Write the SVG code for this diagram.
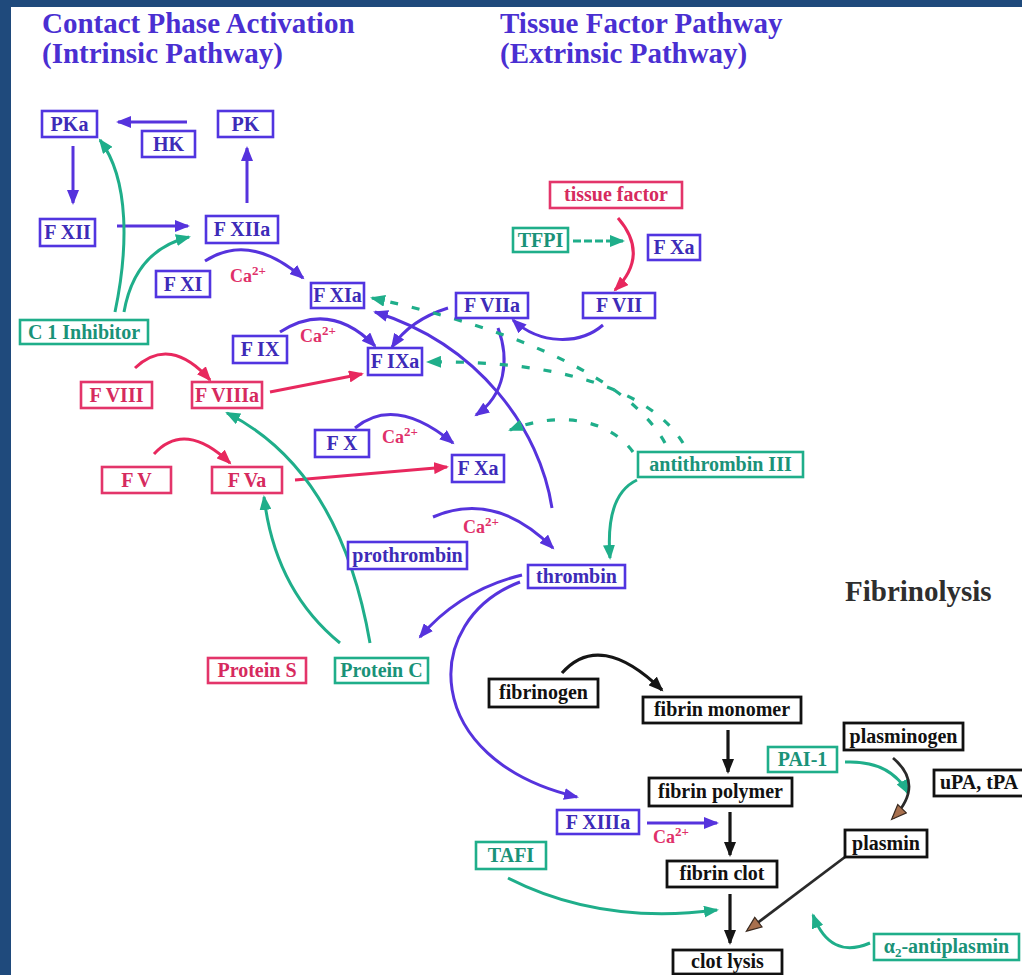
<svg xmlns="http://www.w3.org/2000/svg" width="1022" height="975" viewBox="0 0 1022 975">
<style>
text{font-family:"Liberation Serif","Times New Roman",serif;font-weight:bold}
.t{font-size:20px;text-anchor:middle}
.title{font-size:29px;fill:#4a2fd2}
.nb rect{fill:#fff;stroke:#5135e0;stroke-width:2.6}
.nb text{fill:#3d2bb8}
.nr rect{fill:#fff;stroke:#e3356a;stroke-width:2.6}
.nr text{fill:#d62a5e}
.ng rect{fill:#fff;stroke:#1fae8a;stroke-width:2.6}
.ng text{fill:#1a9278}
.nk rect{fill:#fff;stroke:#111;stroke-width:2.8}
.nk text{fill:#111}
.ca{font-size:18px;fill:#e0306a}
.ca tspan{font-size:13px}
.cb{fill:none;stroke:#5633dd;stroke-width:3;marker-end:url(#ab)}
.cr{fill:none;stroke:#e8285e;stroke-width:3;marker-end:url(#ar)}
.cg{fill:none;stroke:#1fae8a;stroke-width:3;marker-end:url(#ag)}
.cgd{fill:none;stroke:#1fae8a;stroke-width:3.2;stroke-dasharray:8 14;marker-end:url(#ag)}
.ck{fill:none;stroke:#151515;stroke-width:3.2;marker-end:url(#ak)}
.cn{fill:none;stroke:#2a2a2a;stroke-width:2.8;marker-end:url(#an)}
</style>
<defs>
<marker id="ab" markerUnits="userSpaceOnUse" markerWidth="16" markerHeight="12" refX="13" refY="6" orient="auto"><path d="M0,0 L15,6 L0,12 z" fill="#5633dd"/></marker>
<marker id="ar" markerUnits="userSpaceOnUse" markerWidth="16" markerHeight="12" refX="13" refY="6" orient="auto"><path d="M0,0 L15,6 L0,12 z" fill="#e8285e"/></marker>
<marker id="ag" markerUnits="userSpaceOnUse" markerWidth="16" markerHeight="12" refX="13" refY="6" orient="auto"><path d="M0,0 L15,6 L0,12 z" fill="#1fae8a"/></marker>
<marker id="ak" markerUnits="userSpaceOnUse" markerWidth="16" markerHeight="12" refX="13" refY="6" orient="auto"><path d="M0,0 L15,6 L0,12 z" fill="#151515"/></marker>
<marker id="an" markerUnits="userSpaceOnUse" markerWidth="18" markerHeight="14" refX="14" refY="7" orient="auto"><path d="M1,1 L16,7 L1,13 z" fill="#a8704e" stroke="#3a2a20" stroke-width="1.2"/></marker>
</defs>
<rect x="0" y="0" width="1022" height="975" fill="#fff"/>
<rect x="0" y="0" width="11" height="975" fill="#1f4a7c"/>
<rect x="0" y="0" width="1022" height="7" fill="#1f4a7c"/>

<g id="titles">
<text class="title" x="42" y="33">Contact Phase Activation</text>
<text class="title" x="42" y="63">(Intrinsic Pathway)</text>
<text class="title" x="500" y="33">Tissue Factor Pathway</text>
<text class="title" x="500" y="63">(Extrinsic Pathway)</text>
<text x="845" y="601" style="font-size:29px;fill:#2e2e2e">Fibrinolysis</text>
</g>

<g id="connectors">
<path class="cb" d="M187,122 L118,122"/>
<path class="cb" d="M73,146 L73,203"/>
<path class="cb" d="M247,203 L247,148"/>
<path class="cb" d="M117,226 L188,226"/>
<path class="cb" d="M205,261 Q250,232 303,278"/>
<path class="cb" d="M280,332 Q330,300 375,346"/>
<path class="cb" d="M448,308 Q410,320 392,347"/>
<path class="cb" d="M552,508 C540,430 480,345 375,312"/>
<path class="cb" d="M498,328 C510,360 505,395 476,415"/>
<path class="cb" d="M603,325 C580,345 540,345 513,320"/>
<path class="cb" d="M355,428 Q395,395 453,443"/>
<path class="cb" d="M433,517 Q495,490 553,548"/>
<path class="cb" d="M522,575 Q460,590 420,637"/>
<path class="cb" d="M520,582 C420,620 420,760 577,797"/>
<path class="cb" d="M647,823 L717,823"/>

<path class="cr" d="M618,218 Q650,255 615,290"/>
<path class="cr" d="M135,368 Q170,335 210,380"/>
<path class="cr" d="M270,392 L362,374"/>
<path class="cr" d="M154,454 Q185,420 230,463"/>
<path class="cr" d="M295,480 L447,467"/>

<path class="cg" style="stroke-dasharray:8 3" d="M573,241 L623,241"/>
<path class="cg" d="M115,312 C128,250 130,180 100,140"/>
<path class="cg" d="M124,312 Q135,250 189,237"/>
<path class="cgd" d="M665,443 C630,380 520,330 372,298"/>
<path class="cgd" d="M683,443 C650,390 560,360 428,362"/>
<path class="cgd" d="M633,452 C610,420 560,410 510,430"/>
<path class="cg" d="M637,480 Q605,495 610,558"/>
<path class="cg" d="M340,643 Q275,590 264,497"/>
<path class="cg" d="M370,643 Q340,470 227,413"/>
<path class="cg" d="M845,762 Q890,760 908,793"/>
<path class="cg" d="M508,878 Q600,925 717,910"/>
<path class="cg" d="M870,943 Q830,960 813,915"/>

<path class="ck" d="M562,673 Q600,630 662,690"/>
<path class="ck" d="M728,730 L728,772"/>
<path class="ck" d="M730,812 L730,855"/>
<path class="ck" d="M730,894 L730,943"/>
<path class="cn" d="M893,758 Q925,785 893,818"/>
<path class="cn" d="M845,857 L748,930"/>
</g>

<g id="ca-labels">
<text class="ca" x="230" y="282">Ca<tspan dy="-7">2+</tspan></text>
<text class="ca" x="300" y="342">Ca<tspan dy="-7">2+</tspan></text>
<text class="ca" x="382" y="443">Ca<tspan dy="-7">2+</tspan></text>
<text class="ca" x="463" y="533">Ca<tspan dy="-7">2+</tspan></text>
<text class="ca" x="653" y="843">Ca<tspan dy="-7">2+</tspan></text>
</g>

<g id="PKa" class="nb"><rect x="42" y="111" width="55" height="26"/><text class="t" x="69.5" y="131">PKa</text></g>
<g id="HK" class="nb"><rect x="142" y="131" width="53" height="26"/><text class="t" x="168.5" y="151">HK</text></g>
<g id="PK" class="nb"><rect x="218" y="111" width="55" height="26"/><text class="t" x="245.5" y="131">PK</text></g>
<g id="FXII" class="nb"><rect x="40" y="219" width="55" height="27"/><text class="t" x="67.5" y="239">F XII</text></g>
<g id="FXIIa" class="nb"><rect x="206" y="216" width="72" height="27"/><text class="t" x="242" y="236">F XIIa</text></g>
<g id="FXI" class="nb"><rect x="156" y="271" width="54" height="26"/><text class="t" x="183" y="291">F XI</text></g>
<g id="FXIa" class="nb"><rect x="311" y="283" width="53" height="25"/><text class="t" x="337.5" y="302">F XIa</text></g>
<g id="FVIIa" class="nb"><rect x="456" y="293" width="72" height="25"/><text class="t" x="492" y="312">F VIIa</text></g>
<g id="FVII" class="nb"><rect x="583" y="293" width="72" height="25"/><text class="t" x="619" y="312">F VII</text></g>
<g id="FXa-tf" class="nb"><rect x="648" y="235" width="52" height="25"/><text class="t" x="674" y="254">F Xa</text></g>
<g id="FIX" class="nb"><rect x="233" y="336" width="54" height="27"/><text class="t" x="260" y="356">F IX</text></g>
<g id="FIXa" class="nb"><rect x="368" y="348" width="54" height="27"/><text class="t" x="395" y="368">F IXa</text></g>
<g id="FX" class="nb"><rect x="315" y="430" width="54" height="27"/><text class="t" x="342" y="450">F X</text></g>
<g id="FXa" class="nb"><rect x="452" y="455" width="52" height="27"/><text class="t" x="478" y="475">F Xa</text></g>
<g id="prothrombin" class="nb"><rect x="348" y="542" width="119" height="27"/><text class="t" x="407.5" y="562">prothrombin</text></g>
<g id="thrombin" class="nb"><rect x="528" y="565" width="97" height="23"/><text class="t" x="576.5" y="583">thrombin</text></g>
<g id="FXIIIa" class="nb"><rect x="557" y="810" width="82" height="24"/><text class="t" x="598" y="829">F XIIIa</text></g>

<g id="tissue-factor" class="nr"><rect x="550" y="182" width="132" height="26"/><text class="t" x="616" y="201">tissue factor</text></g>
<g id="FVIII" class="nr"><rect x="81" y="382" width="71" height="26"/><text class="t" x="116.5" y="402">F VIII</text></g>
<g id="FVIIIa" class="nr"><rect x="192" y="382" width="70" height="26"/><text class="t" x="227" y="402">F VIIIa</text></g>
<g id="FV" class="nr"><rect x="102" y="467" width="69" height="26"/><text class="t" x="136.5" y="487">F V</text></g>
<g id="FVa" class="nr"><rect x="212" y="467" width="70" height="26"/><text class="t" x="247" y="487">F Va</text></g>
<g id="ProteinS" class="nr"><rect x="208" y="658" width="98" height="25"/><text class="t" x="257" y="677">Protein S</text></g>

<g id="TFPI" class="ng"><rect x="513" y="228" width="55" height="24"/><text class="t" x="540.5" y="247">TFPI</text></g>
<g id="C1Inhibitor" class="ng"><rect x="20" y="320" width="128" height="24"/><text class="t" x="84" y="339">C 1 Inhibitor</text></g>
<g id="antithrombinIII" class="ng"><rect x="638" y="452" width="165" height="25"/><text class="t" x="720.5" y="471">antithrombin III</text></g>
<g id="ProteinC" class="ng"><rect x="335" y="658" width="93" height="25"/><text class="t" x="381.5" y="677">Protein C</text></g>
<g id="PAI-1" class="ng"><rect x="768" y="747" width="69" height="25"/><text class="t" x="802.5" y="766">PAI-1</text></g>
<g id="TAFI" class="ng"><rect x="476" y="842" width="70" height="27"/><text class="t" x="511" y="862">TAFI</text></g>
<g id="a2-antiplasmin" class="ng"><rect x="874" y="934" width="145" height="26"/><text class="t" x="946.5" y="953">α<tspan font-size="13" dy="4">2</tspan><tspan dy="-4">-antiplasmin</tspan></text></g>

<g id="fibrinogen" class="nk"><rect x="489" y="679" width="109" height="28"/><text class="t" x="543.5" y="699">fibrinogen</text></g>
<g id="fibrin-monomer" class="nk"><rect x="643" y="697" width="158" height="26"/><text class="t" x="722" y="716">fibrin monomer</text></g>
<g id="plasminogen" class="nk"><rect x="844" y="723" width="119" height="27"/><text class="t" x="903.5" y="743">plasminogen</text></g>
<g id="uPA-tPA" class="nk"><rect x="934" y="770" width="92" height="26"/><text x="940" y="789" style="font-size:20px">uPA, tPA</text></g>
<g id="fibrin-polymer" class="nk"><rect x="649" y="778" width="143" height="28"/><text class="t" x="720.5" y="798">fibrin polymer</text></g>
<g id="plasmin" class="nk"><rect x="845" y="830" width="82" height="27"/><text class="t" x="886" y="850">plasmin</text></g>
<g id="fibrin-clot" class="nk"><rect x="667" y="861" width="110" height="26"/><text class="t" x="722" y="880">fibrin clot</text></g>
<g id="clot-lysis" class="nk"><rect x="673" y="950" width="109" height="24"/><text class="t" x="727.5" y="968">clot lysis</text></g>
</svg>
